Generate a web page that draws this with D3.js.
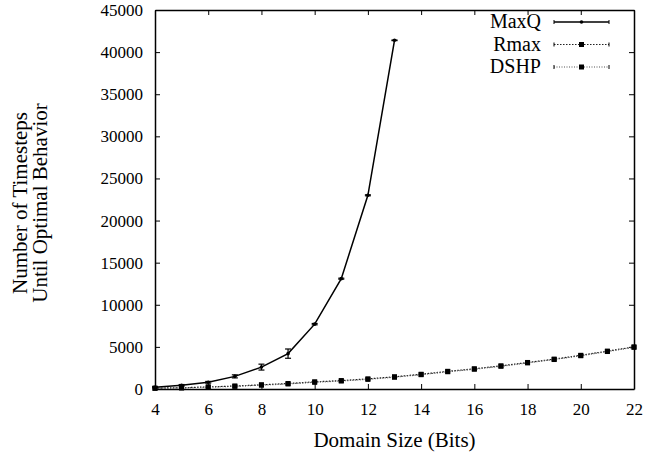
<!DOCTYPE html>
<html>
<head>
<meta charset="utf-8">
<script src="https://cdn.jsdelivr.net/npm/d3@7"></script>
<style>
    body { margin: 0; background: #fff; }
    text { font-family: "Liberation Serif", "Times New Roman", serif; fill: #000; }
    .tick text { font-size: 17px; }
    .axisLabel { font-size: 21px; }
    .legendLabel { font-size: 20px; }
</style>
</head>
<body>
<div id="chart"></div>
<script>
//Chart values
const maxqBits = [4, 5, 6, 7, 8, 9, 10, 11, 12, 13];
const maxqSteps = [200, 450, 800, 1500, 2600, 4200, 7700, 13100, 23000, 41400];
const maxqErr = [60, 80, 100, 180, 350, 550, 80, 60, 60, 40];

const bits = [4, 5, 6, 7, 8, 9, 10, 11, 12, 13, 14, 15, 16, 17, 18, 19, 20, 21, 22];
const rmaxSteps = [100, 150, 250, 350, 500, 650, 850, 1000, 1200, 1450, 1750, 2100, 2400, 2750, 3150, 3550, 4000, 4500, 5000];
const dshpSteps = [80, 130, 220, 320, 460, 600, 800, 950, 1150, 1400, 1700, 2050, 2350, 2700, 3100, 3500, 3950, 4450, 4950];

const xTicks = [4, 6, 8, 10, 12, 14, 16, 18, 20, 22];
const yTicks = [0, 5000, 10000, 15000, 20000, 25000, 30000, 35000, 40000, 45000];

const width = 661;
const height = 456;
const margin = { top: 10, left: 155, right: 27, bottom: 67 };

const svg = d3.select("#chart")
    .append("svg")
    .attr("width", width)
    .attr("height", height);

const xScale = d3.scaleLinear()
    .domain([4, 22])
    .range([margin.left, width - margin.right]);

const yScale = d3.scaleLinear()
    .domain([0, 45000])
    .range([height - margin.bottom, margin.top]);

//axes with inward ticks, mirrored on top and right
const xAxis = svg.append("g")
    .attr("transform", `translate(0,${height - margin.bottom})`)
    .call(d3.axisBottom(xScale).tickValues(xTicks).tickSizeInner(-5).tickSizeOuter(0).tickPadding(14).tickFormat(d3.format("d")));

const yAxis = svg.append("g")
    .attr("transform", `translate(${margin.left},0)`)
    .call(d3.axisLeft(yScale).tickValues(yTicks).tickSizeInner(-5).tickSizeOuter(0).tickPadding(12).tickFormat(d3.format("d")));

svg.append("g")
    .attr("transform", `translate(0,${margin.top})`)
    .call(d3.axisTop(xScale).tickValues(xTicks).tickSizeInner(-5).tickSizeOuter(0).tickFormat(""));

svg.append("g")
    .attr("transform", `translate(${width - margin.right},0)`)
    .call(d3.axisRight(yScale).tickValues(yTicks).tickSizeInner(-5).tickSizeOuter(0).tickFormat(""));

svg.selectAll(".domain").attr("stroke", "#000").attr("stroke-width", 1.5);
svg.selectAll(".tick line").attr("stroke", "#000");

//axis titles
svg.append("text")
    .attr("class", "axisLabel")
    .attr("x", (margin.left + width - margin.right) / 2)
    .attr("y", 447)
    .attr("text-anchor", "middle")
    .text("Domain Size (Bits)");

const yTitle = svg.append("text")
    .attr("class", "axisLabel")
    .attr("transform", `translate(27,203) rotate(-90)`)
    .attr("text-anchor", "middle");
yTitle.append("tspan").attr("x", 0).attr("dy", 0).text("Number of Timesteps");
yTitle.append("tspan").attr("x", 0).attr("dy", 20).text("Until Optimal Behavior");

const line = d3.line()
    .x(d => xScale(d[0]))
    .y(d => yScale(d[1]));

//Rmax and DSHP dotted lines with square markers
const dotted = [
    { name: "Rmax", values: rmaxSteps, color: "#222", dash: "1.5,1.5" },
    { name: "DSHP", values: dshpSteps, color: "#555", dash: "1,1.5" }
];

dotted.forEach(s => {
    const pts = bits.map((b, i) => [b, s.values[i]]);
    svg.append("path")
        .datum(pts)
        .attr("fill", "none")
        .attr("stroke", s.color)
        .attr("stroke-width", 1.2)
        .attr("stroke-dasharray", s.dash)
        .attr("d", line);
    svg.selectAll(null)
        .data(pts)
        .enter()
        .append("rect")
        .attr("x", d => xScale(d[0]) - 2.5)
        .attr("y", d => yScale(d[1]) - 2.5)
        .attr("width", 5)
        .attr("height", 5)
        .attr("fill", "#000");
});

//MaxQ solid line with error bars
const maxqPts = maxqBits.map((b, i) => [b, maxqSteps[i], maxqErr[i]]);

svg.append("path")
    .datum(maxqPts)
    .attr("fill", "none")
    .attr("stroke", "#000")
    .attr("stroke-width", 1.5)
    .attr("d", line);

const bars = svg.selectAll(".errbar")
    .data(maxqPts)
    .enter()
    .append("g")
    .attr("class", "errbar")
    .attr("stroke", "#000")
    .attr("stroke-width", 1.2);

bars.append("line")
    .attr("x1", d => xScale(d[0]))
    .attr("x2", d => xScale(d[0]))
    .attr("y1", d => yScale(d[1] - d[2]))
    .attr("y2", d => yScale(d[1] + d[2]));
bars.append("line")
    .attr("x1", d => xScale(d[0]) - 3)
    .attr("x2", d => xScale(d[0]) + 3)
    .attr("y1", d => yScale(d[1] - d[2]))
    .attr("y2", d => yScale(d[1] - d[2]));
bars.append("line")
    .attr("x1", d => xScale(d[0]) - 3)
    .attr("x2", d => xScale(d[0]) + 3)
    .attr("y1", d => yScale(d[1] + d[2]))
    .attr("y2", d => yScale(d[1] + d[2]));

svg.selectAll(".maxqDot")
    .data(maxqPts)
    .enter()
    .append("circle")
    .attr("class", "maxqDot")
    .attr("cx", d => xScale(d[0]))
    .attr("cy", d => yScale(d[1]))
    .attr("r", 1.8)
    .attr("fill", "#000");

//legend
const legendItems = [
    { name: "MaxQ", color: "#000", dash: null, width: 1.5, marker: "dot" },
    { name: "Rmax", color: "#222", dash: "1.5,1.5", width: 1.2, marker: "square" },
    { name: "DSHP", color: "#555", dash: "1,1.5", width: 1.2, marker: "square" }
];

const legend = svg.append("g");
legendItems.forEach((d, i) => {
    const y = 22 + i * 22.5;
    legend.append("text")
        .attr("class", "legendLabel")
        .attr("x", 541)
        .attr("y", y + 6)
        .attr("text-anchor", "end")
        .text(d.name);
    legend.append("line")
        .attr("x1", 554).attr("x2", 609)
        .attr("y1", y).attr("y2", y)
        .attr("stroke", d.color)
        .attr("stroke-width", d.width)
        .attr("stroke-dasharray", d.dash);
    [554, 609].forEach(x => {
        legend.append("line")
            .attr("x1", x).attr("x2", x)
            .attr("y1", y - 2).attr("y2", y + 2)
            .attr("stroke", "#000");
    });
    if (d.marker === "dot") {
        legend.append("circle").attr("cx", 581.5).attr("cy", y).attr("r", 1.8).attr("fill", "#000");
    } else {
        legend.append("rect").attr("x", 579).attr("y", y - 2.5).attr("width", 5).attr("height", 5).attr("fill", "#000");
    }
});
</script>
</body>
</html>
